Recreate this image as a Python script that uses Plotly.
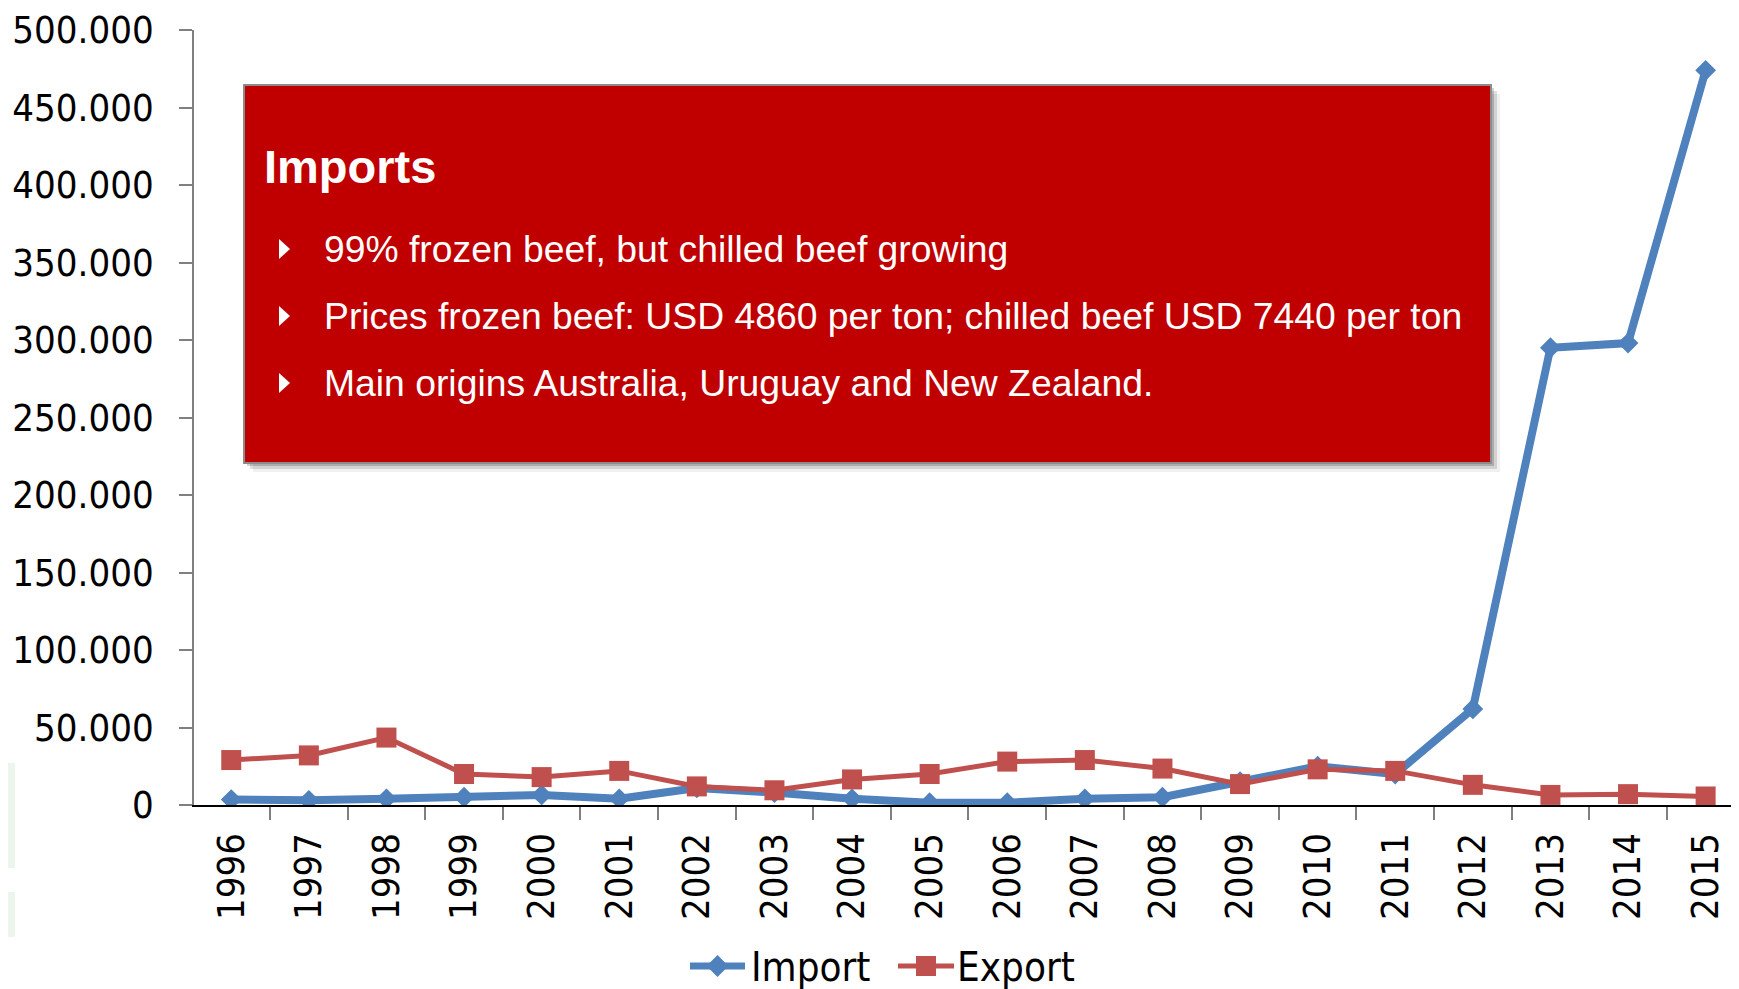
import plotly.graph_objects as go

years = [str(y) for y in range(1996, 2016)]
import_vals = [3500, 3000, 4000, 5000, 6500, 4000, 11000, 8000, 4000, 1500,
               1500, 4000, 5000, 15000, 25000, 20000, 62000, 295000, 298000, 474000]
export_vals = [29000, 32000, 43500, 20000, 18000, 22000, 12000, 9500, 16500, 20000,
               28000, 29000, 23500, 13500, 23000, 22000, 13000, 6500, 7000, 5500]
series_names = ["Import", "Export"]
series_colors = ["#4F81BD", "#C0504D"]

box_title = "Imports"
box_bullets = [
    "99% frozen beef, but chilled beef growing",
    "Prices frozen beef: USD 4860 per ton; chilled beef USD 7440 per ton",
    "Main origins Australia, Uruguay and New Zealand.",
]

# page is rendered with an 8px body margin; figure sized to fit the window
OFF = 8
W, H = 1739 - OFF, 989 - OFF
L, R, T = 194 - OFF, 0, 30 - OFF
B = H - (805 - OFF)
PW = W - L - R
PH = H - T - B


def px(x):  # page pixel x -> paper
    return (x - OFF - L) / PW


def py(y):  # page pixel y -> paper
    return (T + PH - (y - OFF)) / PH


TICK_FONT = dict(family="DejaVu Sans Condensed, DejaVu Sans, sans-serif", size=38, color="#000000")
LEG_FONT = dict(family="DejaVu Sans Condensed, DejaVu Sans, sans-serif", size=40, color="#000000")

fig = go.Figure()
fig.add_trace(go.Scatter(
    x=years, y=import_vals, name=series_names[0], mode="lines+markers",
    line=dict(color=series_colors[0], width=8),
    marker=dict(symbol="diamond", size=16, color=series_colors[0]),
    showlegend=False,
))
fig.add_trace(go.Scatter(
    x=years, y=export_vals, name=series_names[1], mode="lines+markers",
    line=dict(color=series_colors[1], width=5),
    marker=dict(symbol="square", size=20, color=series_colors[1]),
    showlegend=False,
))

shapes = []
# faint background decoration at left edge
for ya, yb in [(763, 868), (892, 937)]:
    shapes.append(dict(type="rect", xref="paper", yref="paper",
                       x0=px(OFF), x1=px(OFF + 7), y0=py(yb), y1=py(ya),
                       fillcolor="rgba(200,228,200,0.35)", line=dict(width=0), layer="below"))
# box shadow
for off, a in [(3, 0.18), (6, 0.12), (9, 0.06)]:
    shapes.append(dict(type="rect", xref="paper", yref="paper",
                       x0=px(244 + off), x1=px(1491 + off), y0=py(463 + off), y1=py(85 + off),
                       fillcolor=f"rgba(0,0,0,{a})", line=dict(width=0), layer="above"))
# red box
shapes.append(dict(type="rect", xref="paper", yref="paper",
                   x0=px(244), x1=px(1491), y0=py(463), y1=py(85),
                   fillcolor="#C00000", line=dict(color="#8C8C8C", width=2), layer="above"))

line_centers = [249, 316, 383]
for yc in line_centers:
    x0, x1 = px(279), px(290)
    shapes.append(dict(type="path", xref="paper", yref="paper",
                       path=f"M {x0},{py(yc - 10)} L {x1},{py(yc)} L {x0},{py(yc + 10)} Z",
                       fillcolor="#FFFFFF", line=dict(width=0), layer="above"))

annotations = [dict(text=f"<b>{box_title}</b>", xref="paper", yref="paper",
                    x=px(262), y=py(166), xanchor="left", yanchor="middle", showarrow=False,
                    font=dict(family="Liberation Sans, Arial, sans-serif", size=47, color="#FFFFFF"))]
for txt, yc in zip(box_bullets, line_centers):
    annotations.append(dict(text=txt, xref="paper", yref="paper",
                            x=px(322), y=py(yc), xanchor="left", yanchor="middle", showarrow=False,
                            font=dict(family="Liberation Sans, Arial, sans-serif", size=37.3, color="#FFFFFF")))

# custom legend (symbols + labels)
leg_y = 966
leg_items = [(690, 745, "diamond"), (898, 954, "square")]
leg_text_x = [749, 955]
for (lx0, lx1, sym), name, col, tx in zip(leg_items, series_names, series_colors, leg_text_x):
    shapes.append(dict(type="line", xref="paper", yref="paper",
                       x0=px(lx0), x1=px(lx1), y0=py(leg_y), y1=py(leg_y),
                       line=dict(color=col, width=7 if sym == "diamond" else 5), layer="above"))
    cx = (lx0 + lx1) / 2
    if sym == "diamond":
        r = 11
        path = (f"M {px(cx - r)},{py(leg_y)} L {px(cx)},{py(leg_y - r)} "
                f"L {px(cx + r)},{py(leg_y)} L {px(cx)},{py(leg_y + r)} Z")
    else:
        r = 10
        path = (f"M {px(cx - r)},{py(leg_y - r)} L {px(cx + r)},{py(leg_y - r)} "
                f"L {px(cx + r)},{py(leg_y + r)} L {px(cx - r)},{py(leg_y + r)} Z")
    shapes.append(dict(type="path", xref="paper", yref="paper", path=path,
                       fillcolor=col, line=dict(width=0), layer="above"))
    annotations.append(dict(text=name, xref="paper", yref="paper",
                            x=px(tx), y=py(leg_y + 1), xanchor="left", yanchor="middle",
                            showarrow=False, font=LEG_FONT))

fig.update_layout(
    width=W, height=H,
    margin=dict(l=L, r=R, t=T, b=B, pad=0, autoexpand=False),
    paper_bgcolor="#FFFFFF", plot_bgcolor="#FFFFFF",
    separators=",.",
    showlegend=False,
    shapes=shapes,
    annotations=annotations,
)
fig.update_xaxes(
    type="category", range=[-0.48, 19.43], automargin=False,
    showline=True, linecolor="#000000", linewidth=1.5,
    showgrid=False, zeroline=False,
    ticks="outside", tickson="boundaries", ticklen=13, tickcolor="#808080", tickwidth=1.5,
    tickangle=-90, tickfont=TICK_FONT, ticklabelstandoff=11,
)
fig.update_yaxes(
    range=[0, 500000], tickvals=[i * 50000 for i in range(11)], tickformat=",d", automargin=False,
    showline=True, linecolor="#808080", linewidth=1.5,
    showgrid=False, zeroline=False,
    ticks="outside", ticklen=13, tickcolor="#808080", tickwidth=1.5,
    tickfont=TICK_FONT, ticklabelstandoff=18,
)

fig.write_html("out.html")
